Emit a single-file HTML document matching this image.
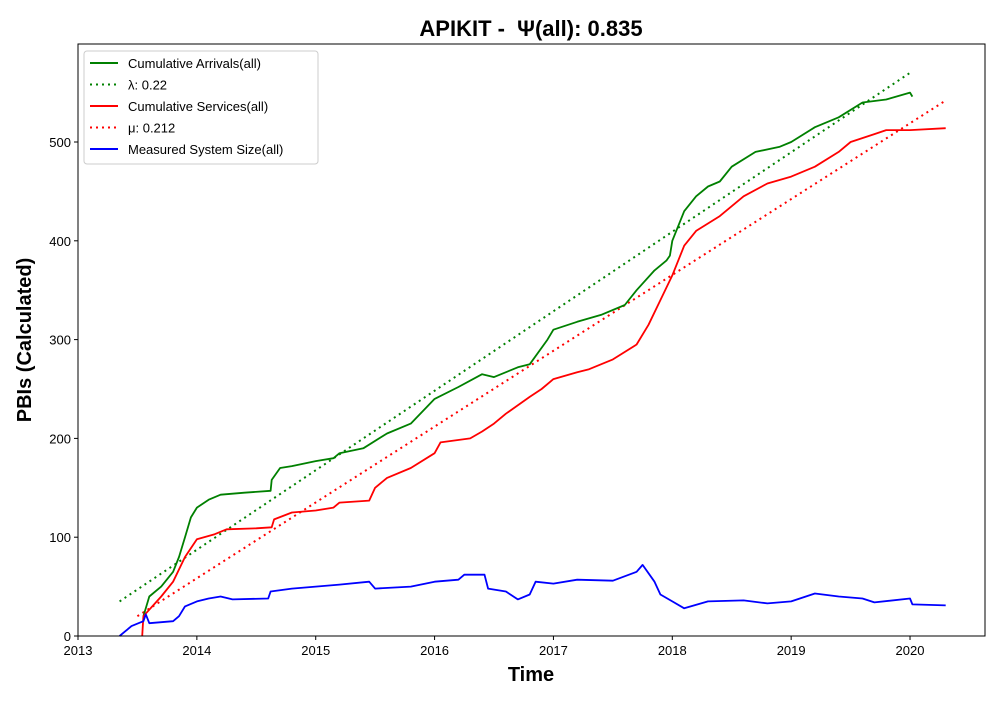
<!DOCTYPE html>
<html><head><meta charset="utf-8"><style>
body{margin:0;background:#fff;font-family:"Liberation Sans",sans-serif}
</style></head><body>
<svg id="chart" width="1000" height="700" xmlns="http://www.w3.org/2000/svg" font-family="Liberation Sans, DejaVu Sans, sans-serif">
<text x="531" y="36" text-anchor="middle" font-size="22" font-weight="bold">APIKIT - &#160;Ψ(all): 0.835</text>
<text transform="translate(31,340) rotate(-90)" text-anchor="middle" font-size="20" font-weight="bold">PBIs (Calculated)</text>
<text x="531" y="681" text-anchor="middle" font-size="20" font-weight="bold">Time</text>
<g id="plot"></g>
<rect x="78" y="44" width="907" height="592" fill="none" stroke="#000" stroke-width="1"/>
<g id="legend">
<rect x="84" y="51" width="234" height="113" rx="3" fill="#fff" fill-opacity="0.8" stroke="#ccc"/>
</g>
</svg>
<script>
const xTicks=[2013,2014,2015,2016,2017,2018,2019,2020];
const yTicks=[0,100,200,300,400,500];
const arrT=[2013.55,2013.6,2013.7,2013.8,2013.85,2013.9,2013.95,2014.0,2014.1,2014.2,2014.4,2014.62,2014.63,2014.7,2014.8,2015.0,2015.15,2015.2,2015.4,2015.6,2015.8,2016.0,2016.2,2016.4,2016.5,2016.7,2016.8,2016.95,2017.0,2017.2,2017.4,2017.6,2017.7,2017.85,2017.95,2017.98,2018.0,2018.1,2018.2,2018.3,2018.4,2018.5,2018.7,2018.9,2019.0,2019.2,2019.4,2019.6,2019.8,2020.0,2020.02];
const arrV=[20,40,50,65,80,100,120,130,138,143,145,147,158,170,172,177,180,185,190,205,215,240,252,265,262,272,275,300,310,318,325,335,350,370,380,385,400,430,445,455,460,475,490,495,500,515,525,540,543,550,546];
const srvT=[2013.54,2013.55,2013.7,2013.8,2013.9,2014.0,2014.15,2014.25,2014.5,2014.63,2014.65,2014.8,2015.0,2015.15,2015.2,2015.45,2015.5,2015.6,2015.8,2016.0,2016.05,2016.3,2016.4,2016.5,2016.6,2016.8,2016.9,2017.0,2017.2,2017.3,2017.5,2017.7,2017.8,2017.9,2018.0,2018.1,2018.2,2018.4,2018.6,2018.8,2019.0,2019.2,2019.4,2019.5,2019.7,2019.8,2020.0,2020.3];
const srvV=[0,20,40,55,80,98,103,108,109,110,118,125,127,130,135,137,150,160,170,185,196,200,207,215,225,242,250,260,267,270,280,295,315,340,365,395,410,425,445,458,465,475,490,500,508,512,512,514];
const sysT=[2013.35,2013.4,2013.45,2013.55,2013.57,2013.6,2013.8,2013.85,2013.9,2014.0,2014.1,2014.2,2014.3,2014.6,2014.62,2014.8,2015.0,2015.2,2015.45,2015.5,2015.8,2016.0,2016.2,2016.25,2016.42,2016.45,2016.6,2016.7,2016.8,2016.85,2017.0,2017.2,2017.5,2017.7,2017.75,2017.85,2017.9,2018.0,2018.1,2018.3,2018.6,2018.8,2019.0,2019.2,2019.4,2019.6,2019.7,2020.0,2020.02,2020.3];
const sysV=[0,5,10,15,22,13,15,20,30,35,38,40,37,38,45,48,50,52,55,48,50,55,57,62,62,48,45,37,42,55,53,57,56,65,72,55,42,35,28,35,36,33,35,43,40,38,34,38,32,31];
const lamT=[2013.35,2020.0], lamV=[35,570];
const muT=[2013.5,2020.3], muV=[20,542];
const NS='http://www.w3.org/2000/svg';
const X=t=>78+(t-2013)*118.86;
const Y=v=>636-v*0.988;
const plot=document.getElementById('plot');
const svg=document.getElementById('chart');
function mk(tag,attrs,parent){const e=document.createElementNS(NS,tag);for(const k in attrs)e.setAttribute(k,attrs[k]);parent.appendChild(e);return e;}
xTicks.forEach(t=>{
 const l=mk('line',{x1:X(t),x2:X(t),y1:636,y2:640,stroke:'#000'},svg);
 
 
 const tx=mk('text',{x:X(t),y:655,'text-anchor':'middle','font-size':13},svg);tx.textContent=t;
 
 
});
yTicks.forEach(v=>{
 const l=mk('line',{x1:74,x2:78,y1:Y(v),y2:Y(v),stroke:'#000'},svg);
 
 
 const tx=mk('text',{x:71,y:Y(v)+5,'text-anchor':'end','font-size':13},svg);tx.textContent=v;
 
 
});
function series(T,V,color,dash,name){
 const d=T.map((t,i)=>(i?'L':'M')+X(t).toFixed(1)+' '+Y(V[i]).toFixed(1)).join(' ');
 const p=mk('path',{d:d,fill:'none',stroke:color,'stroke-width':dash?2:1.8,'stroke-dasharray':dash?'2,4':'none','stroke-linejoin':'round'},plot);
 
 
}
series(lamT,lamV,'green',true,'lambda-line');
series(muT,muV,'red',true,'mu-line');
series(arrT,arrV,'green',false,'cumulative-arrivals-line');
series(srvT,srvV,'red',false,'cumulative-services-line');
series(sysT,sysV,'blue',false,'system-size-line');
const leg=document.getElementById('legend');
const items=[['green',false,'Cumulative Arrivals(all)'],['green',true,'λ: 0.22'],['red',false,'Cumulative Services(all)'],['red',true,'μ: 0.212'],['blue',false,'Measured System Size(all)']];
items.forEach((it,i)=>{
 const y=63+i*21.5;
 const l=mk('line',{x1:90,x2:118,y1:y,y2:y,stroke:it[0],'stroke-width':2,'stroke-dasharray':it[1]?'2,4':'none'},leg);
 
 
 const tx=mk('text',{x:128,y:y+5,'font-size':13},leg);tx.textContent=it[2];
 
 
});
</script>
</body></html>
